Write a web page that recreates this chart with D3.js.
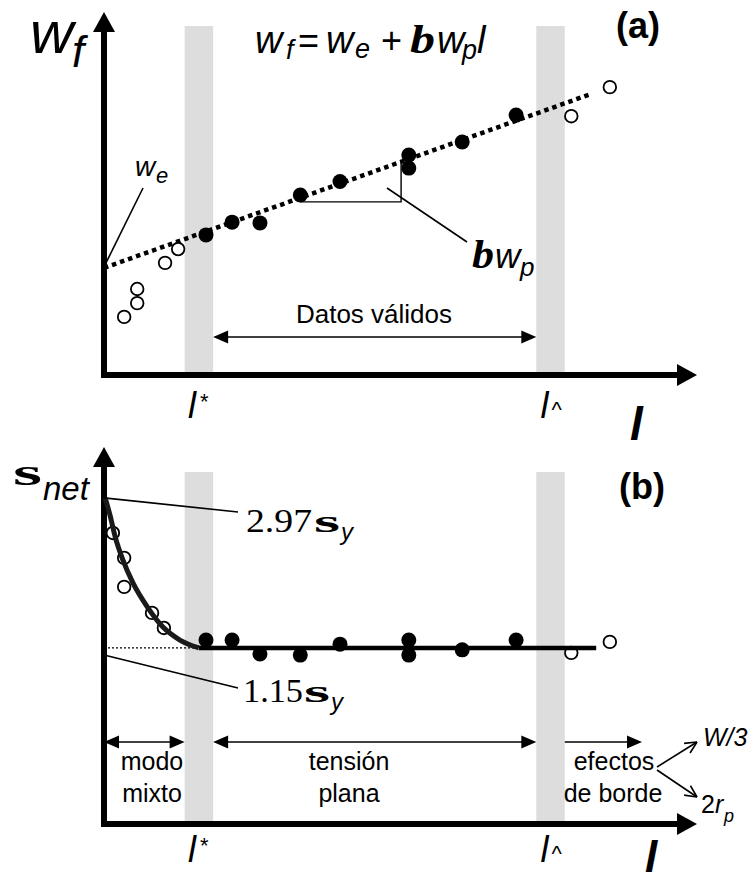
<!DOCTYPE html>
<html>
<head>
<meta charset="utf-8">
<script src="https://cdn.jsdelivr.net/npm/d3@7"></script>
<style>
  body { margin: 0; background: #fff; }
  svg { display: block; }
</style>
</head>
<body>
<div id="chart"></div>
<script>
// ligament length l (arbitrary units) of the tested specimens
const lValid = [17.2, 21.6, 26.3, 33.1, 39.8, 51.4, 51.4, 60.4, 69.5];
const lOutA = [3.4, 5.6, 5.6, 10.3, 12.5, 78.8, 85.3];
const lOutB = [1.5, 3.4, 3.4, 8.1, 10.1, 78.8, 85.3];

// (a) specific work of fracture w_f
const wfValid = [38.6, 42.1, 41.9, 49.6, 53.3, 60.6, 57.0, 64.2, 71.6];
const wfOut = [16.0, 23.7, 19.8, 30.9, 34.7, 71.3, 79.3];
const fitA = [[0, 29.5], [82.1, 77.4]];
const slopeTri = [[33.1, 47.7], [50.1, 47.7], [50.1, 58.7]];

// (b) net section stress
const sigValid = [48.8, 48.8, 45.1, 44.8, 47.7, 48.8, 44.8, 46.2, 48.8];
const sigOut = [77.2, 70.6, 62.9, 56.0, 52.0, 45.4, 48.3];
const curveL = [0.2, 1.0, 1.9, 3.2, 4.9, 7.3, 9.9, 12.8, 16.0];
const curveS = [86.5, 82.0, 76.1, 70.0, 63.9, 57.6, 52.3, 48.8, 46.7];
const plateau = [[16.0, 46.7], [83.0, 46.7]];

const lStar = 16.0, lHat = 75.3, bandHalf = 2.4;

const SANS = '"Liberation Sans", Arial, sans-serif';
const SERIF = '"Liberation Serif", "Times New Roman", serif';

const svg = d3.select('#chart').append('svg').attr('width', 748).attr('height', 876);

const x = d3.scaleLinear().domain([0, 100]).range([104, 697]);
const yA = d3.scaleLinear().domain([0, 100]).range([375, 12]);
const yB = d3.scaleLinear().domain([0, 100]).range([824, 447]);

function txt(g, px, py, s, o = {}) {
    const t = g.append('text')
        .attr('x', px).attr('y', py)
        .attr('font-family', o.serif ? SERIF : SANS)
        .attr('font-size', o.size || 25)
        .attr('font-style', o.italic ? 'italic' : 'normal')
        .attr('font-weight', o.bold ? 'bold' : 'normal')
        .attr('text-anchor', o.anchor || 'start')
        .attr('fill', '#000')
        .text(s);
    if (o.len) t.attr('textLength', o.len).attr('lengthAdjust', 'spacingAndGlyphs');
    return t;
}

// filled triangle head, tip at (tx,ty) pointing along angle a
function head(g, tx, ty, a, len = 15, hw = 6.5) {
    const c = Math.cos(a), s = Math.sin(a);
    const bx = tx - c * len, by = ty - s * len;
    g.append('path')
        .attr('d', `M${tx},${ty}L${bx - s * hw},${by + c * hw}L${bx + s * hw},${by - c * hw}Z`)
        .attr('fill', '#000');
}

function openHead(g, tx, ty, a, len = 13) {
    const p = d3.path();
    [0.45, -0.45].forEach(d => {
        p.moveTo(tx, ty);
        p.lineTo(tx - Math.cos(a + d) * len, ty - Math.sin(a + d) * len);
    });
    g.append('path').attr('d', p.toString()).attr('stroke', '#000').attr('stroke-width', 1.6).attr('fill', 'none');
}

function hArrow(g, x1, x2, yy, both) {
    g.append('line').attr('x1', x1 + (both ? 6 : 0)).attr('x2', x2 - 6).attr('y1', yy).attr('y2', yy)
        .attr('stroke', '#000').attr('stroke-width', 1.6);
    head(g, x2, yy, 0);
    if (both) head(g, x1, yy, Math.PI);
}

function line(g, x1, y1, x2, y2, w = 1.6) {
    g.append('line').attr('x1', x1).attr('y1', y1).attr('x2', x2).attr('y2', y2)
        .attr('stroke', '#000').attr('stroke-width', w);
}

function bands(g, top, bottom) {
    g.selectAll('rect.band').data([lStar, lHat]).enter().append('rect')
        .attr('class', 'band')
        .attr('x', d => x(d - bandHalf))
        .attr('width', d => x(d + bandHalf) - x(d - bandHalf))
        .attr('y', top).attr('height', bottom - top)
        .attr('fill', '#dddddd');
}

function axes(g, y) {
    const x0 = x(0), y0 = y(0);
    line(g, x0, y0 + 3, x0, y(100) + 18, 6);
    head(g, x0, y(100), -Math.PI / 2, 20, 11);
    line(g, x0 - 3, y0, x(100) - 18, y0, 6);
    head(g, x(100), y0, 0, 20, 11);
}

function lLabels(g, base) {
    txt(g, x(lStar) - 11, base, 'l', { italic: true, size: 36 });
    txt(g, x(lStar) + 1, base - 9, '*', { size: 22 });
    txt(g, x(lHat) - 10, base, 'l', { italic: true, size: 36 });
    txt(g, x(lHat) + 1, base - 1, '^', { size: 22 });
}

// ---------- panel (a) ----------
const ga = svg.append('g');
bands(ga, 26, 373);
axes(ga, yA);

ga.append('path')
    .datum(fitA)
    .attr('d', d3.line().x(d => x(d[0])).y(d => yA(d[1])))
    .attr('stroke', '#000').attr('stroke-width', 4.5)
    .attr('stroke-dasharray', '4.5,4').attr('fill', 'none');

ga.append('path')
    .datum(slopeTri)
    .attr('d', d3.line().x(d => x(d[0])).y(d => yA(d[1])))
    .attr('stroke', '#000').attr('stroke-width', 1.4).attr('fill', 'none');

ga.selectAll('.openA').data(lOutA.map((l, i) => [l, wfOut[i]])).enter().append('circle')
    .attr('cx', d => x(d[0])).attr('cy', d => yA(d[1])).attr('r', 6.3)
    .attr('fill', '#fff').attr('stroke', '#000').attr('stroke-width', 1.8);

ga.selectAll('.fillA').data(lValid.map((l, i) => [l, wfValid[i]])).enter().append('circle')
    .attr('cx', d => x(d[0])).attr('cy', d => yA(d[1])).attr('r', 7.5)
    .attr('fill', '#000');

// labels (a)
txt(ga, 30, 53, 'w', { italic: true, size: 60 });
txt(ga, 72, 67, 'f', { italic: true, size: 44 });

txt(ga, 255, 53, 'w', { italic: true, size: 38 });
txt(ga, 286, 59, 'f', { italic: true, size: 27 });
txt(ga, 298, 53, '=', { size: 36 });
txt(ga, 326, 53, 'w', { italic: true, size: 38 });
txt(ga, 355, 58, 'e', { italic: true, size: 27 });
txt(ga, 381, 53, '+', { size: 36 });
txt(ga, 410, 53, 'b', { italic: true, bold: true, serif: true, size: 41, len: 25 });
txt(ga, 437, 53, 'w', { italic: true, size: 38 });
txt(ga, 462, 59, 'p', { italic: true, size: 27 });
txt(ga, 477, 53, 'l', { italic: true, size: 38 });

txt(ga, 616, 38, '(a)', { bold: true, size: 36 });

txt(ga, 135, 176, 'w', { italic: true, size: 28 });
txt(ga, 156, 183, 'e', { italic: true, size: 22 });
line(ga, 143, 188, x(0) + 1, yA(fitA[0][1]) - 3);

line(ga, 387, 188, 467, 242);
txt(ga, 472, 268, 'b', { italic: true, bold: true, serif: true, size: 41, len: 22 });
txt(ga, 495, 268, 'w', { italic: true, size: 35 });
txt(ga, 520, 276, 'p', { italic: true, size: 26 });

txt(ga, 374, 323, 'Datos válidos', { size: 26, anchor: 'middle' });
hArrow(ga, x(lStar + bandHalf), x(lHat - bandHalf), 337, true);

lLabels(ga, 418);
txt(ga, 630, 440, 'l', { italic: true, bold: true, size: 46 });

// ---------- panel (b) ----------
const gb = svg.append('g');
bands(gb, 472, 821);
axes(gb, yB);

gb.append('line')
    .attr('x1', x(0)).attr('x2', x(plateau[0][0]))
    .attr('y1', yB(plateau[0][1])).attr('y2', yB(plateau[0][1]))
    .attr('stroke', '#000').attr('stroke-width', 1.2).attr('stroke-dasharray', '2,2');

gb.selectAll('.openB').data(lOutB.map((l, i) => [l, sigOut[i]])).enter().append('circle')
    .attr('cx', d => x(d[0])).attr('cy', d => yB(d[1])).attr('r', 6.3)
    .attr('fill', 'none').attr('stroke', '#000').attr('stroke-width', 1.8);

gb.append('path')
    .datum(curveL.map((l, i) => [l, curveS[i]]))
    .attr('d', d3.line().curve(d3.curveMonotoneX).x(d => x(d[0])).y(d => yB(d[1])))
    .attr('stroke', '#1a1a1a').attr('stroke-width', 5).attr('fill', 'none');

gb.append('path')
    .datum(plateau)
    .attr('d', d3.line().x(d => x(d[0])).y(d => yB(d[1])))
    .attr('stroke', '#000').attr('stroke-width', 4.5).attr('fill', 'none');

gb.selectAll('.fillB').data(lValid.map((l, i) => [l, sigValid[i]])).enter().append('circle')
    .attr('cx', d => x(d[0])).attr('cy', d => yB(d[1])).attr('r', 7.5)
    .attr('fill', '#000');

// labels (b)
txt(gb, 13, 485, 's', { bold: true, serif: true, size: 38, len: 29 });
txt(gb, 43, 500, 'net', { italic: true, size: 33 });
txt(gb, 619, 499, '(b)', { bold: true, size: 36 });

line(gb, x(0), yB(curveS[0]), 238, 512);
txt(gb, 246, 532, '2.97', { serif: true, size: 34, len: 66 });
txt(gb, 314, 532, 's', { bold: true, serif: true, size: 32, len: 26 });
txt(gb, 341, 540, 'y', { italic: true, size: 24 });

line(gb, x(0), 655, 238, 688);
txt(gb, 243, 702, '1.15', { serif: true, size: 34, len: 60 });
txt(gb, 304, 702, 's', { bold: true, serif: true, size: 32, len: 26 });
txt(gb, 331, 710, 'y', { italic: true, size: 24 });

hArrow(gb, x(0), x(lStar - bandHalf), 742, true);
hArrow(gb, x(lStar + bandHalf), x(lHat - bandHalf), 742, true);
hArrow(gb, x(lHat + bandHalf), 642, 742, false);

txt(gb, 152, 770, 'modo', { anchor: 'middle' });
txt(gb, 152, 802, 'mixto', { anchor: 'middle' });
txt(gb, 349, 770, 'tensión', { anchor: 'middle' });
txt(gb, 349, 802, 'plana', { anchor: 'middle' });
txt(gb, 614, 770, 'efectos', { anchor: 'middle' });
txt(gb, 613, 802, 'de borde', { anchor: 'middle' });

line(gb, 657, 767, 697, 742);
openHead(gb, 697, 742, Math.atan2(742 - 767, 697 - 657));
line(gb, 657, 770, 697, 797);
openHead(gb, 697, 797, Math.atan2(797 - 770, 697 - 657));
txt(gb, 703, 746, 'W/3', { italic: true, size: 25 });
txt(gb, 701, 813, '2', { size: 25 });
txt(gb, 715, 813, 'r', { italic: true, size: 25 });
txt(gb, 724, 822, 'p', { italic: true, size: 18 });

lLabels(gb, 862);
txt(gb, 645, 872, 'l', { italic: true, bold: true, size: 44 });
</script>
</body>
</html>
